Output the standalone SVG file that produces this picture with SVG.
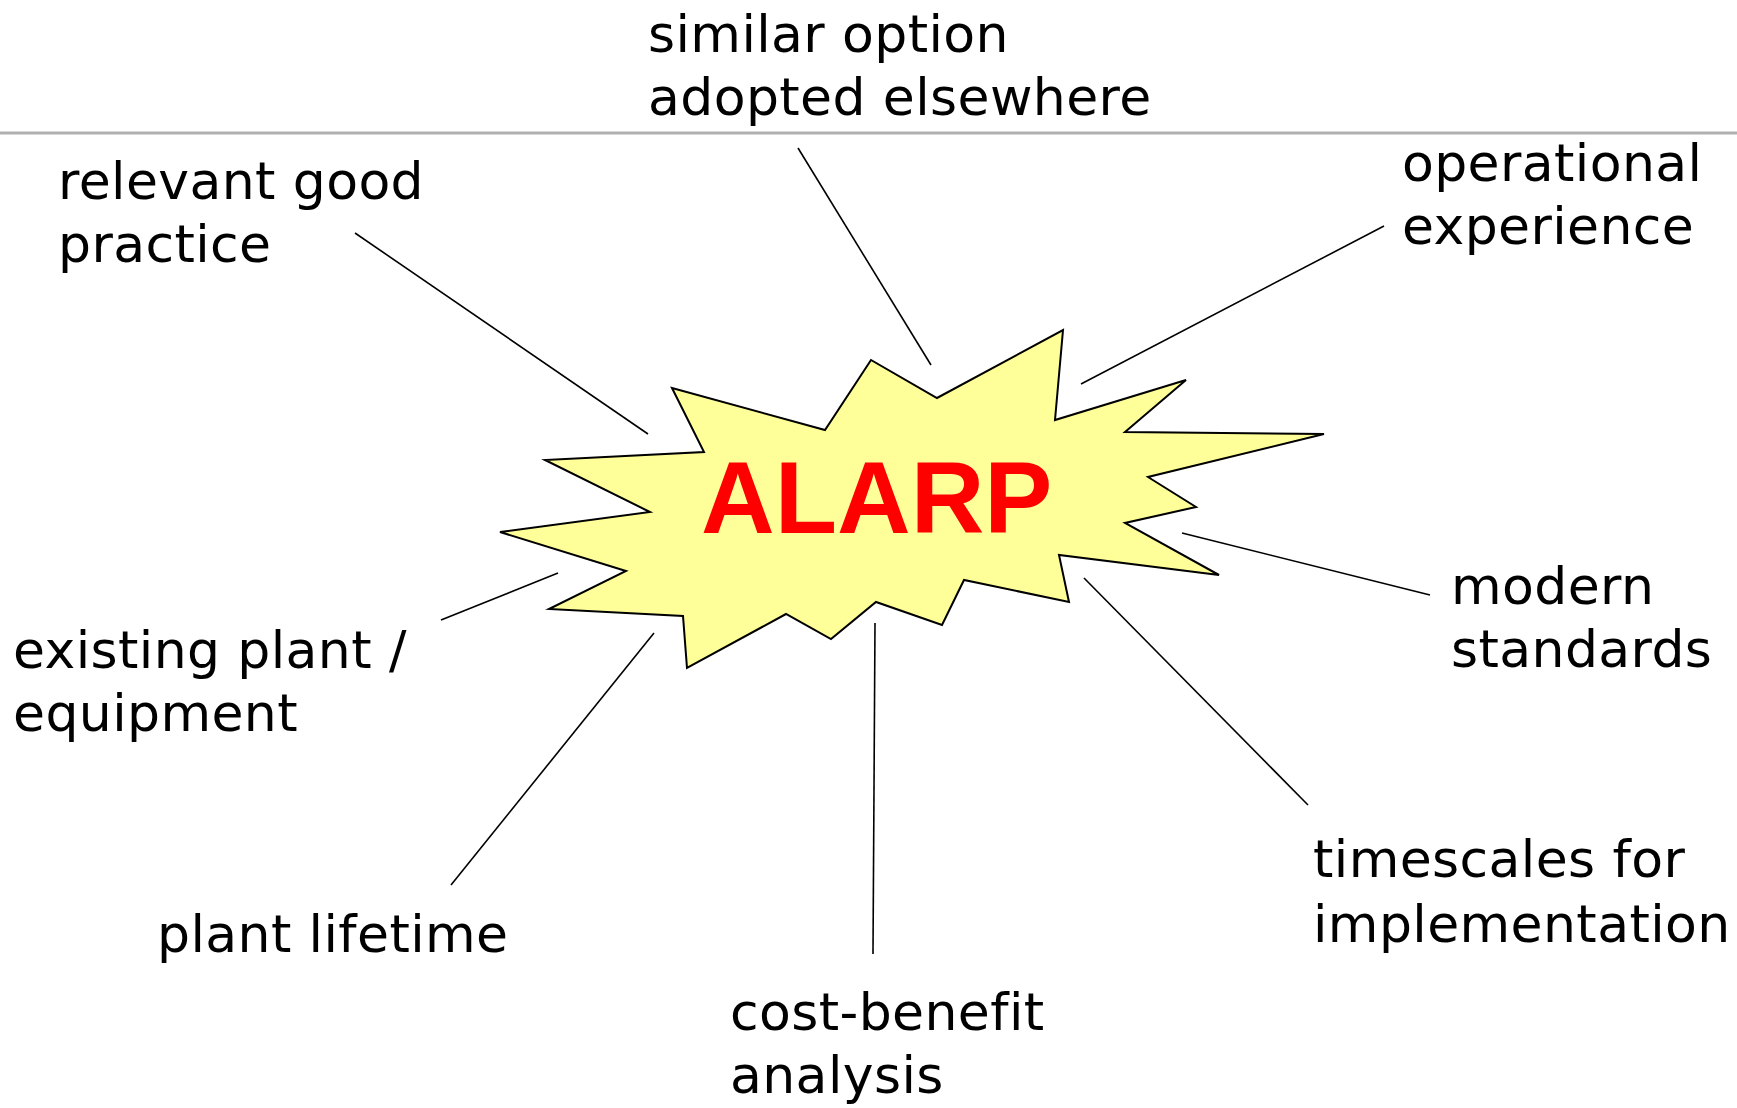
<svg xmlns="http://www.w3.org/2000/svg" width="1737" height="1108" viewBox="0 0 1737 1108">
<style>
.lbl{font-family:"DejaVu Sans","Liberation Sans",sans-serif;font-size:52px;letter-spacing:0.4px;fill:#000}
.conn line{stroke:#000;stroke-width:1.6;fill:none}
.star{fill:#FFFF99;stroke:#000;stroke-width:2;stroke-linejoin:miter}
.title{font-family:"Liberation Sans",Arial,sans-serif;font-weight:bold;font-size:102px;fill:#FF0000}
</style>
<rect x="0" y="0" width="1737" height="1108" fill="#fff"/>
<line x1="0" y1="133" x2="1737" y2="133" stroke="#B0B0B0" stroke-width="3"/>
<g id="alarp">
<polygon class="star" points="672,388 825,430 871,360 937,398 1063,330 1055,420 1186,380 1125,432 1324,434 1148,477 1196,507 1125,523 1219,575 1059,555 1069,602 964,580 942,625 876,602 831,639 786,614 687,668 683,616 549,609 626,571 500,532 650,512 545,460 704,452"/>
<text class="title" x="701" y="533">ALARP</text>
</g>
<g id="connectors" class="conn">
<line x1="355" y1="233" x2="648" y2="434"/>
<line x1="798" y1="148" x2="931" y2="365"/>
<line x1="1384" y1="226" x2="1081" y2="384"/>
<line x1="1182" y1="533" x2="1430" y2="595"/>
<line x1="1084" y1="578" x2="1308" y2="805"/>
<line x1="875" y1="623" x2="873" y2="954"/>
<line x1="654" y1="633" x2="451" y2="885"/>
<line x1="558" y1="573" x2="441" y2="620"/>
</g>
<g id="similar"><text class="lbl" x="648" y="52">similar option</text><text class="lbl" x="648" y="115">adopted elsewhere</text></g>
<g id="relevant"><text class="lbl" x="58" y="199">relevant good</text><text class="lbl" x="58" y="262">practice</text></g>
<g id="operational"><text class="lbl" x="1402" y="181">operational</text><text class="lbl" x="1402" y="244">experience</text></g>
<g id="modern"><text class="lbl" x="1451" y="604">modern</text><text class="lbl" x="1451" y="667">standards</text></g>
<g id="existing"><text class="lbl" x="13" y="668">existing plant /</text><text class="lbl" x="13" y="731">equipment</text></g>
<g id="lifetime"><text class="lbl" x="157" y="952">plant lifetime</text></g>
<g id="timescales"><text class="lbl" x="1313" y="877">timescales for</text><text class="lbl" x="1313" y="942">implementation</text></g>
<g id="costbenefit"><text class="lbl" x="730" y="1030">cost-benefit</text><text class="lbl" x="730" y="1093">analysis</text></g>
</svg>
